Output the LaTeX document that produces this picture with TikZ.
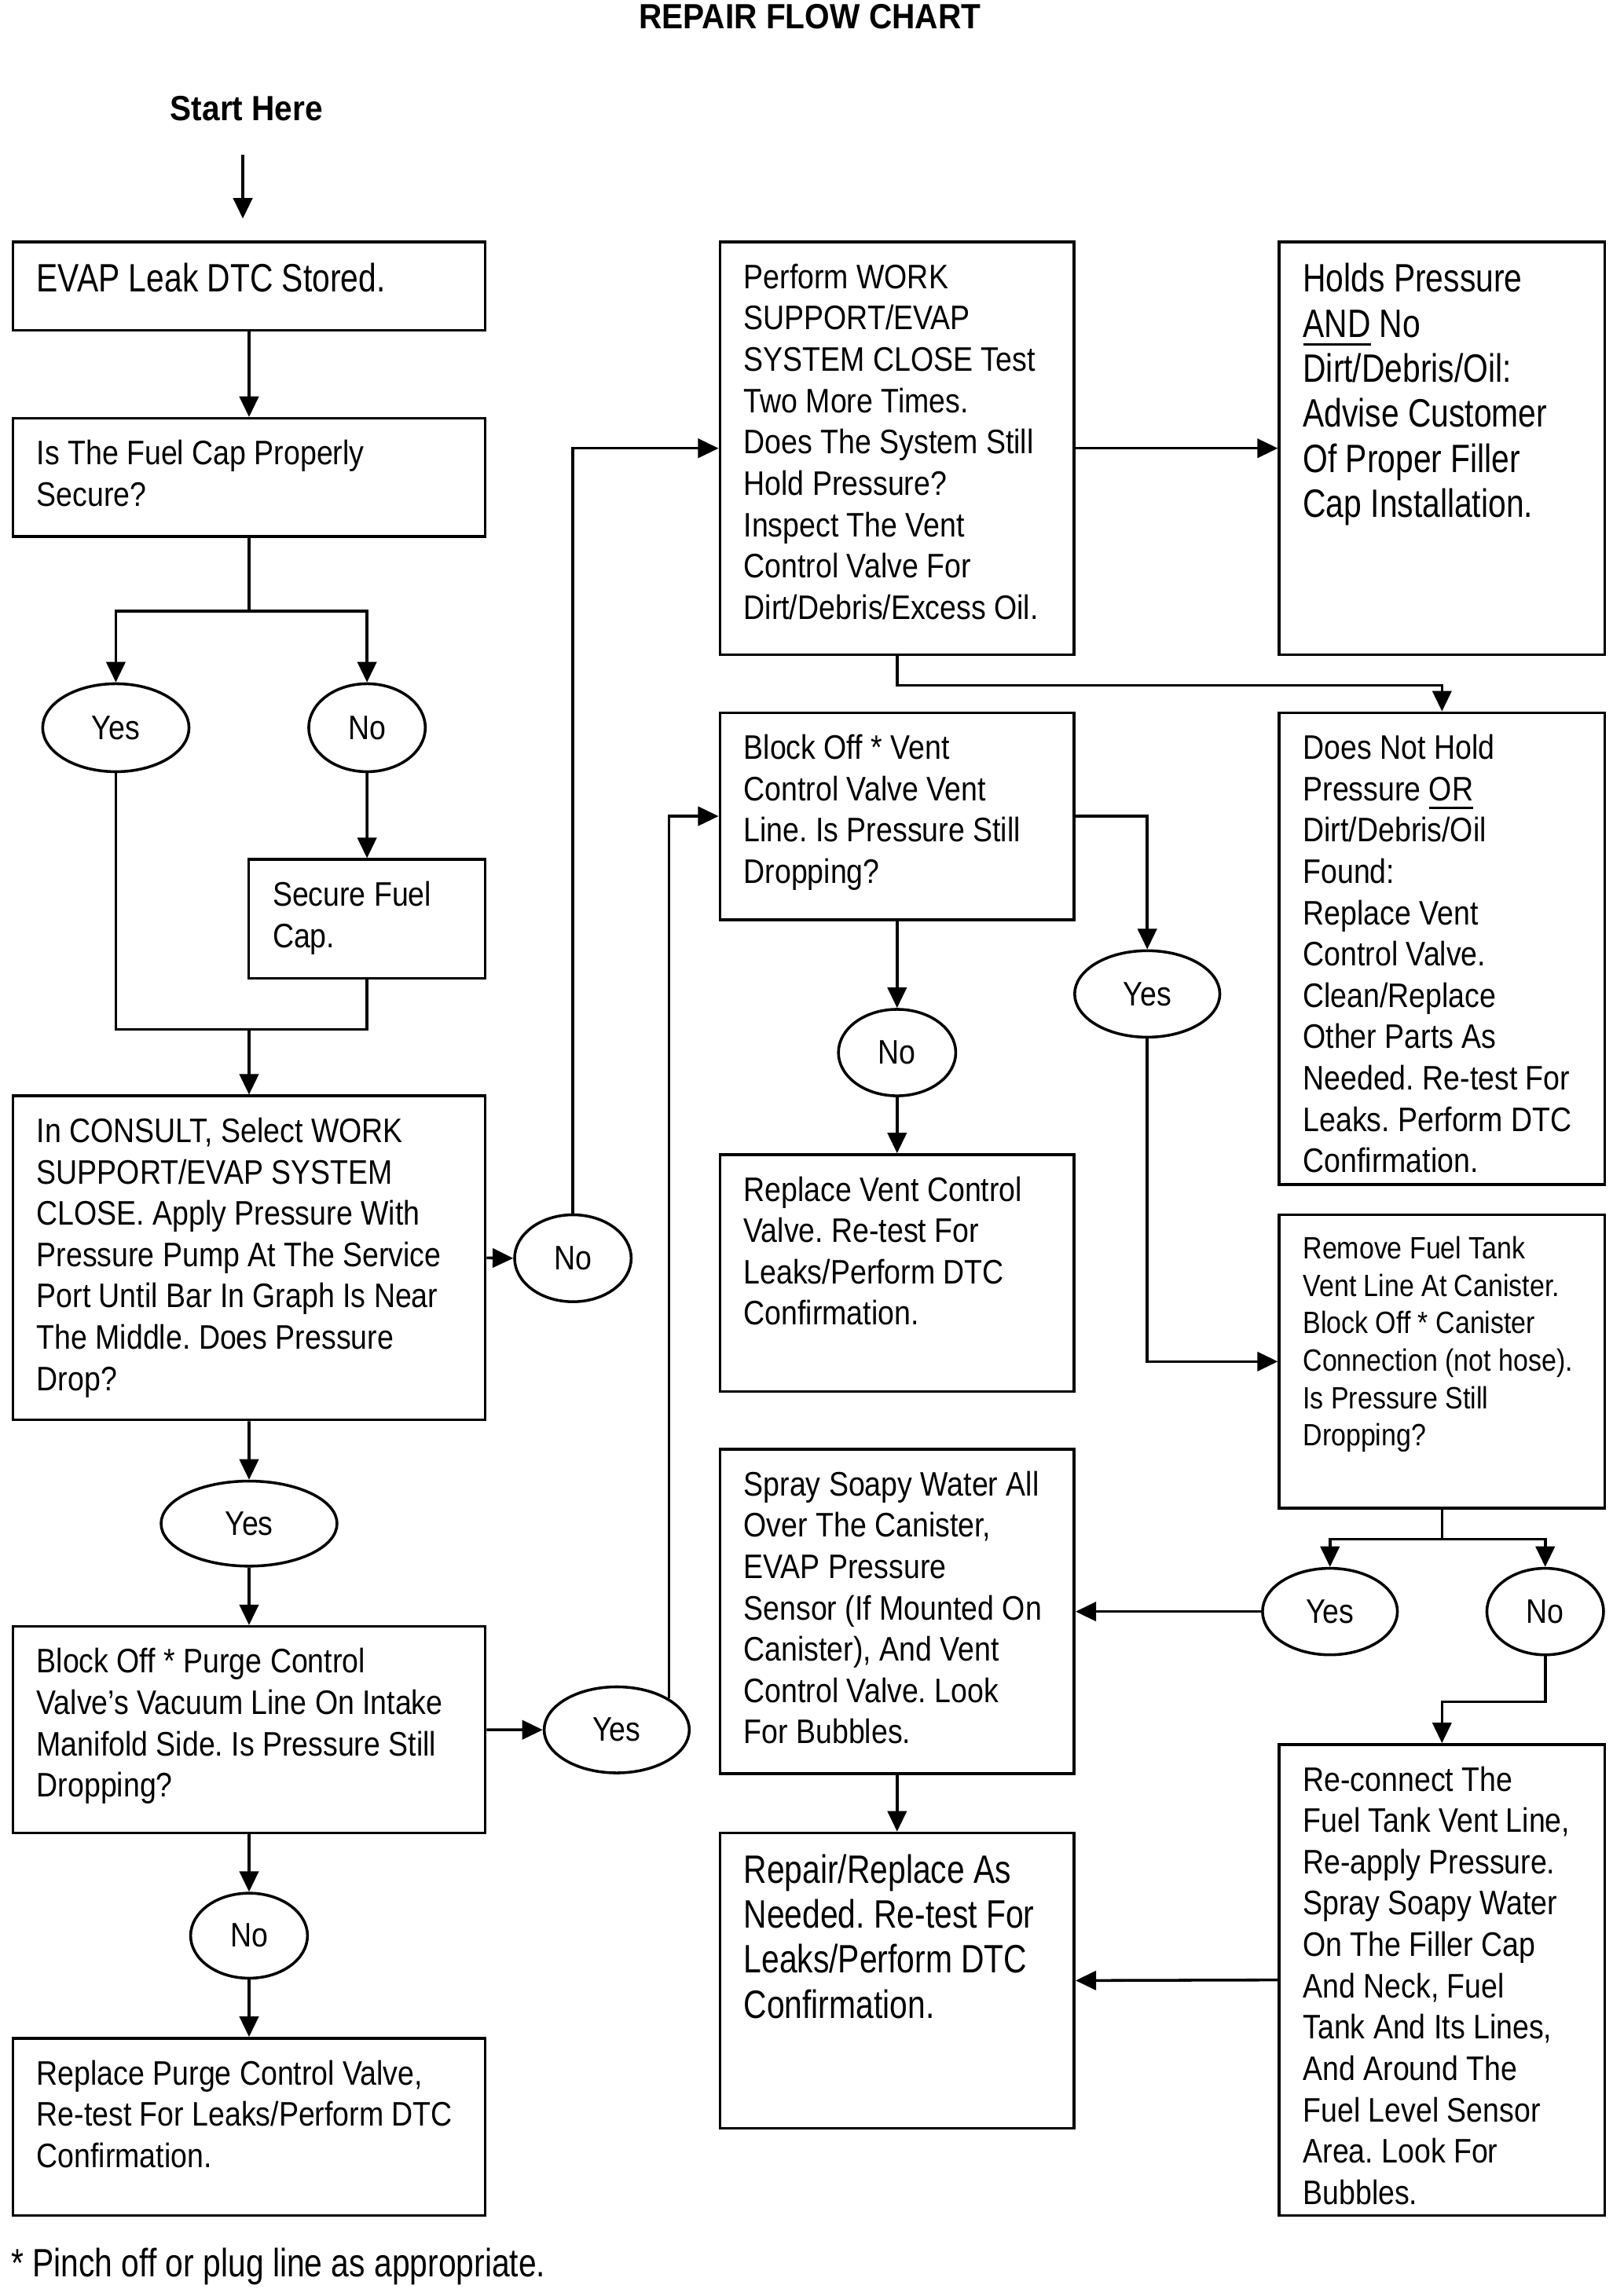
\documentclass[tikz,border=0pt]{standalone}
\usepackage{fontspec}
\setmainfont{Liberation Sans}
\newfontfamily\fN{Liberation Sans}[FakeStretch=0.866]
\newfontfamily\fB{Liberation Sans}[FakeStretch=0.81]
\newfontfamily\fT{Liberation Sans}[FakeStretch=0.911]
\usetikzlibrary{arrows.meta,shapes.geometric}
\frenchspacing
\newcommand\myul[1]{\setbox0\hbox{#1}\rlap{\rule[-5.8pt]{\wd0}{1.5pt}}\box0\relax}
\newcommand\mkbox[5]{\node[box, minimum width={#3-#2}, minimum height={#5-#4}] (#1) at ({(#2+#3)/2},{(#4+#5)/2}) {};}
\tikzset{
  box/.style={draw, rectangle, line width=1.9pt, inner sep=0pt},
  ell/.style={draw, ellipse, line width=1.9pt, inner sep=0pt, font=\fN\fontsize{23.2}{28.2}\selectfont},
  txtn/.style={font=\fN\fontsize{23.2}{28.2}\selectfont, align=left, inner sep=0pt, anchor=north west},
  txtb/.style={font=\fB\fontsize{27}{30.7}\selectfont, align=left, inner sep=0pt, anchor=north west},
  txts/.style={font=\fN\fontsize{21}{25.5}\selectfont, align=left, inner sep=0pt, anchor=north west},
  arr/.style={line width=1.9pt, -{Triangle[length=14pt,width=13pt]}},
  ln/.style={line width=1.9pt},
}
\begin{document}
\begin{tikzpicture}[x=1pt,y=-1pt]
\useasboundingbox (0,0) rectangle (1100,1566.2);
% titles
\node[anchor=base, inner sep=0pt, font=\fT\bfseries\fontsize{23.9}{28}\selectfont] (title) at (552.3,19.7) {REPAIR FLOW CHART};
\node[anchor=base, inner sep=0pt, font=\fT\bfseries\fontsize{23.9}{28}\selectfont] (start) at (168.2,82.4) {Start Here};
\node[anchor=base west, inner sep=0pt, font=\fB\fontsize{27}{30.7}\selectfont] (foot) at (7.5,1553) {* Pinch off or plug line as appropriate.};
% boxes
\mkbox{b1}{8.8}{330.9}{165.1}{225.4}
\mkbox{b2}{8.8}{330.9}{285.4}{366}
\mkbox{bsec}{169.7}{330.9}{586.3}{667.3}
\mkbox{bcons}{8.8}{330.9}{747.6}{968.5}
\mkbox{b7}{8.8}{330.9}{1109.5}{1250.3}
\mkbox{b8}{8.8}{330.9}{1390.4}{1511.2}
\mkbox{b3}{491}{732.6}{165.1}{446.5}
\mkbox{b6}{491}{732.6}{486.2}{627.3}
\mkbox{b9}{491}{732.6}{787.6}{949.2}
\mkbox{b11}{491}{732.6}{988.6}{1210}
\mkbox{b12}{491}{732.6}{1250.3}{1451.7}
\mkbox{b4}{872.4}{1094.4}{165.1}{446.5}
\mkbox{b5}{872.4}{1094.4}{486.2}{808.1}
\mkbox{b10}{872.4}{1094.4}{828.6}{1028.9}
\mkbox{b13}{872.4}{1094.4}{1190}{1511.2}
% box texts
\node[txtb] (t1) at ([xshift=17pt,yshift=-13.4pt]b1.north west) {\strut EVAP Leak DTC Stored.};
\node[txtn] (t2) at ([xshift=17pt,yshift=-12.7pt]b2.north west) {\strut Is The Fuel Cap Properly\\Secure?};
\node[txtn] (tsec) at ([xshift=17pt,yshift=-12.7pt]bsec.north west) {\strut Secure Fuel\\Cap.};
\node[txtn] (tcons) at ([xshift=17pt,yshift=-12.7pt]bcons.north west) {\strut In CONSULT, Select WORK\\SUPPORT/EVAP SYSTEM\\CLOSE. Apply Pressure With\\Pressure Pump At The Service\\Port Until Bar In Graph Is Near\\The Middle. Does Pressure\\Drop?};
\node[txtn] (t7) at ([xshift=17pt,yshift=-12.7pt]b7.north west) {\strut Block Off * Purge Control\\Valve’s Vacuum Line On Intake\\Manifold Side. Is Pressure Still\\Dropping?};
\node[txtn] (t8) at ([xshift=17pt,yshift=-12.7pt]b8.north west) {\strut Replace Purge Control Valve,\\Re-test For Leaks/Perform DTC\\Confirmation.};
\node[txtn] (t3) at ([xshift=17pt,yshift=-12.7pt]b3.north west) {\strut Perform WORK\\SUPPORT/EVAP\\SYSTEM CLOSE Test\\Two More Times.\\Does The System Still\\Hold Pressure?\\Inspect The Vent\\Control Valve For\\Dirt/Debris/Excess Oil.};
\node[txtn] (t6) at ([xshift=17pt,yshift=-12.7pt]b6.north west) {\strut Block Off * Vent\\Control Valve Vent\\Line. Is Pressure Still\\Dropping?};
\node[txtn] (t9) at ([xshift=17pt,yshift=-12.7pt]b9.north west) {\strut Replace Vent Control\\Valve. Re-test For\\Leaks/Perform DTC\\Confirmation.};
\node[txtn] (t11) at ([xshift=17pt,yshift=-12.7pt]b11.north west) {\strut Spray Soapy Water All\\Over The Canister,\\EVAP Pressure\\Sensor (If Mounted On\\Canister), And Vent\\Control Valve. Look\\For Bubbles.};
\node[txtb] (t12) at ([xshift=17pt,yshift=-13.4pt]b12.north west) {\strut Repair/Replace As\\Needed. Re-test For\\Leaks/Perform DTC\\Confirmation.};
\node[txtb] (t4) at ([xshift=17pt,yshift=-13.4pt]b4.north west) {\strut Holds Pressure\\\myul{AND} No\\Dirt/Debris/Oil:\\Advise Customer\\Of Proper Filler\\Cap Installation.};
\node[txtn] (t5) at ([xshift=17pt,yshift=-12.7pt]b5.north west) {\strut Does Not Hold\\Pressure \myul{OR}\\Dirt/Debris/Oil\\Found:\\Replace Vent\\Control Valve.\\Clean/Replace\\Other Parts As\\Needed. Re-test For\\Leaks. Perform DTC\\Confirmation.};
\node[txts] (t10) at ([xshift=17pt,yshift=-13.1pt]b10.north west) {\strut Remove Fuel Tank\\Vent Line At Canister.\\Block Off * Canister\\Connection (not hose).\\Is Pressure Still\\Dropping?};
\node[txtn] (t13) at ([xshift=17pt,yshift=-12.7pt]b13.north west) {\strut Re-connect The\\Fuel Tank Vent Line,\\Re-apply Pressure.\\Spray Soapy Water\\On The Filler Cap\\And Neck, Fuel\\Tank And Its Lines,\\And Around The\\Fuel Level Sensor\\Area. Look For\\Bubbles.};
% ellipses
\node[ell, minimum width=99.8, minimum height=60] (yA) at (79,496.4) {Yes};
\node[ell, minimum width=79.5, minimum height=60] (nA) at (250.3,496.4) {No};
\node[ell, minimum width=79.5, minimum height=59.3] (nB) at (390.7,858.3) {No};
\node[ell, minimum width=120, minimum height=58] (yC) at (169.85,1039.3) {Yes};
\node[ell, minimum width=99, minimum height=58.7] (yD) at (420.6,1180) {Yes};
\node[ell, minimum width=79.7, minimum height=58] (nE) at (169.85,1320.4) {No};
\node[ell, minimum width=80, minimum height=59] (nF) at (611.8,718) {No};
\node[ell, minimum width=99, minimum height=59] (yG) at (782.4,678) {Yes};
\node[ell, minimum width=92, minimum height=59] (yH) at (907,1099.3) {Yes};
\node[ell, minimum width=79.6, minimum height=59] (nI) at (1053.8,1099.3) {No};
% connectors
\coordinate (s0) at (165.6,105.5);
\coordinate (s1) at (165.6,149.1);
\draw[arr] (s0) -- (s1);
\draw[arr] (b1.south) -- (b2.north);
\draw[arr] (b2.south) -- ++(0,50) -| (yA.north);
\draw[arr] (b2.south) -- ++(0,50) -| (nA.north);
\draw[arr] (nA.south) -- (bsec.north);
\coordinate (m1) at (169.85,702.1);
\draw[ln] (yA.south) |- (m1) -| (bsec.south);
\draw[arr] (m1) -- (bcons.north);
\draw[arr] (bcons.east) -- (nB.west);
\draw[arr] (nB.north) |- (b3.west);
\draw[arr] (b3.east) -- (b4.west);
\draw[arr] (b3.south) -- ++(0,20) -| (b5.north);
\draw[arr] (bcons.south) -- (yC.north);
\draw[arr] (yC.south) -- (b7.north);
\draw[arr] (b7.east) -- (yD.west);
\draw[arr] (yD.31) |- (b6.west);
\draw[arr] (b7.south) -- (nE.north);
\draw[arr] (nE.south) -- (b8.north);
\draw[arr] (b6.south) -- (nF.north);
\draw[arr] (nF.south) -- (b9.north);
\draw[arr] (b6.east) -| (yG.north);
\draw[arr] (yG.south) |- (b10.west);
\draw[arr] (b10.south) -- ++(0,20) -| (yH.north);
\draw[arr] (b10.south) -- ++(0,20) -| (nI.north);
\draw[arr] (yH.west) -- (b11.east);
\draw[arr] (b11.south) -- (b12.north);
\draw[arr] (nI.south) -- ++(0,31) -| (b13.north);
\draw[arr] (b13.west) -- (b12.east);
\end{tikzpicture}
\end{document}
